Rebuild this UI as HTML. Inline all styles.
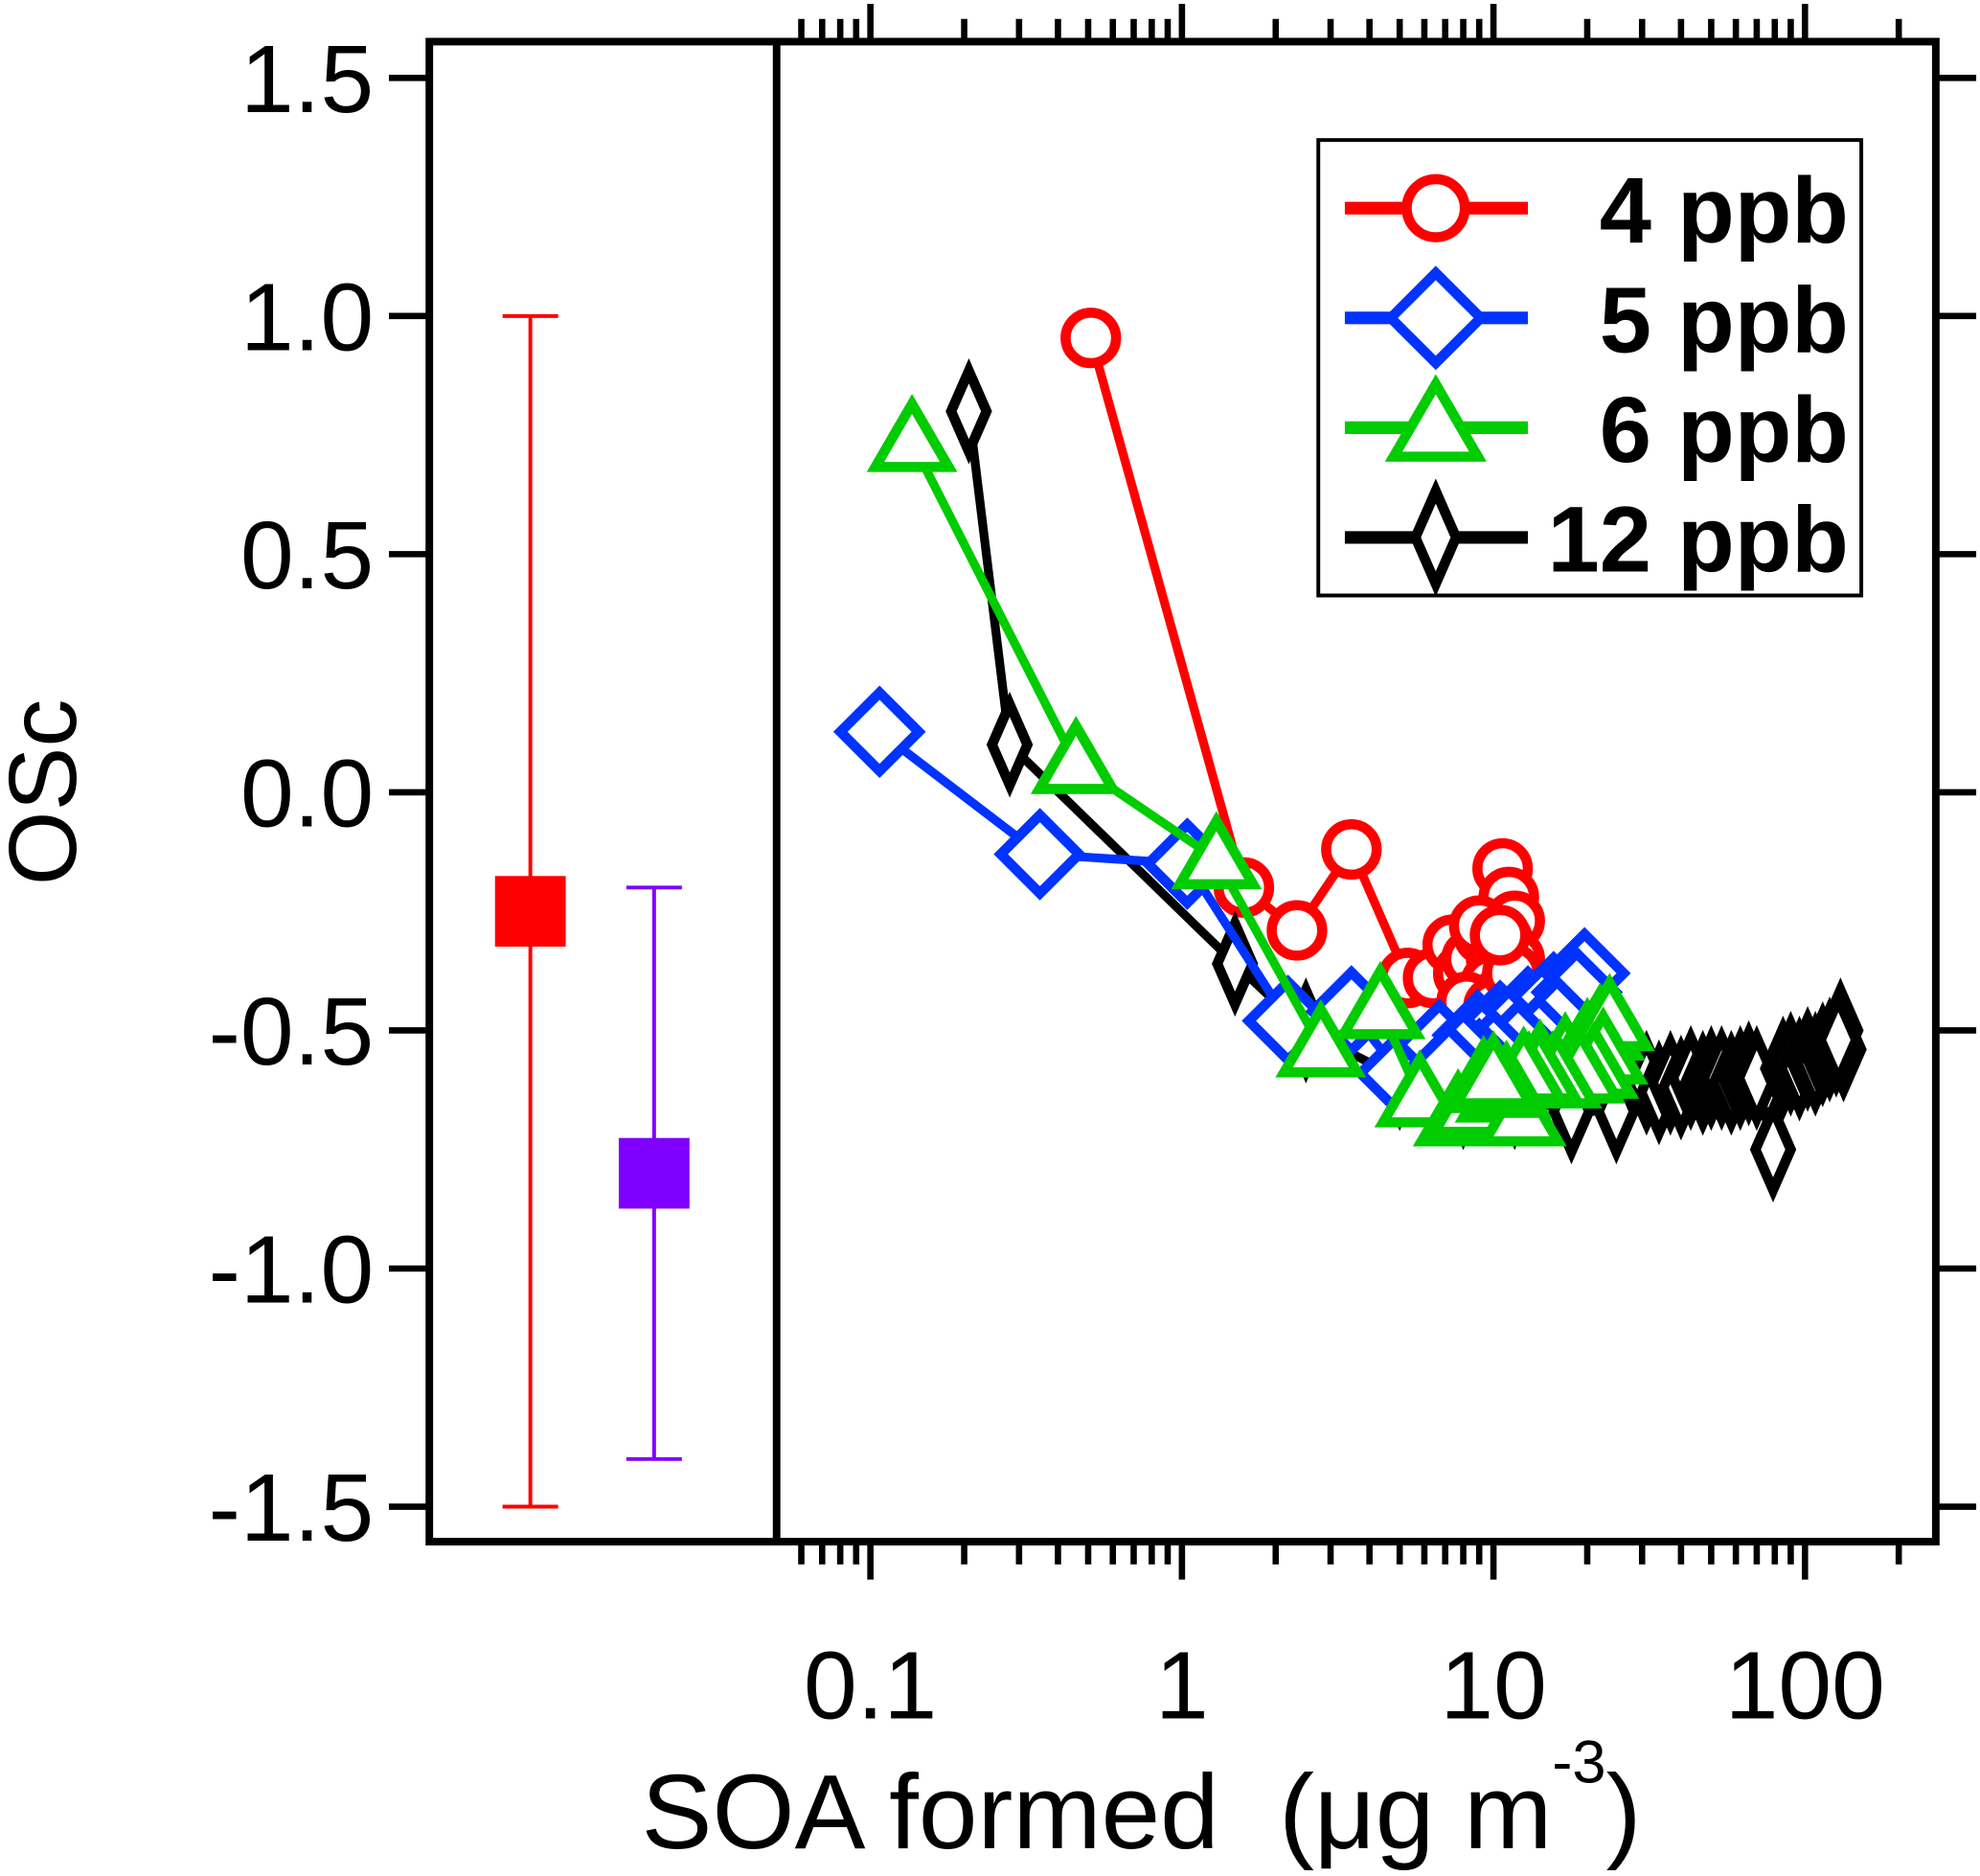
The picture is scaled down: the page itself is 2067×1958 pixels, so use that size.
<!DOCTYPE html>
<html><head><meta charset="utf-8"><style>
html,body{margin:0;padding:0;background:#fff;}
svg{display:block;}
text{font-family:"Liberation Sans",sans-serif;}
</style></head><body>
<svg id="chart" width="2067" height="1958" viewBox="0 0 1568 1487" preserveAspectRatio="none" xmlns="http://www.w3.org/2000/svg">
<g id="g"></g>
</svg>
<script>
// ---- data ----
const redX=[0.51,1.58,2.34,3.5,5.3,6.4,7.4,8.0,8.5,9.3,9.8,10.7,11.2,11.7,10.7,10.2,11.7,9.8,10.9,9.0,8.2,10.0,11.5,10.5];
const redY=[0.954,-0.20,-0.29,-0.12,-0.39,-0.39,-0.32,-0.38,-0.35,-0.30,-0.42,-0.16,-0.22,-0.27,-0.31,-0.35,-0.35,-0.40,-0.42,-0.28,-0.44,-0.45,-0.38,-0.30];
const blueX=[0.107,0.35,1.04,2.19,3.5,5.0,6.7,7.5,8.9,9.5,10.5,11.5,12.9,14,15.6,17,19.6,18.5,16,14,12,10,9,8,7.2];
const blueY=[0.127,-0.13,-0.15,-0.48,-0.46,-0.59,-0.53,-0.57,-0.51,-0.55,-0.49,-0.52,-0.46,-0.50,-0.43,-0.47,-0.38,-0.42,-0.48,-0.52,-0.53,-0.55,-0.57,-0.55,-0.58];
const greenX=[0.136,0.457,1.29,2.79,4.33,5.8,7.7,8.5,9.3,10.5,12.3,13,14.1,15.5,17,18.5,20,22,23.6,22.5,21,19,16,14,12.5,11,10];
const greenY=[0.736,0.06,-0.14,-0.535,-0.455,-0.64,-0.68,-0.66,-0.61,-0.63,-0.68,-0.60,-0.575,-0.60,-0.56,-0.58,-0.53,-0.50,-0.48,-0.55,-0.58,-0.59,-0.60,-0.59,-0.59,-0.62,-0.60];
const blackX=[0.207,0.28,1.48,2.5,5,8,11.7,17.8,24.8,31,34,37,40,43,47,50,54,58,62,66,70,79,85,90,96,102,108,114,120,126,133,130,128];
const blackY=[0.80,0.10,-0.36,-0.50,-0.60,-0.64,-0.64,-0.67,-0.67,-0.61,-0.63,-0.61,-0.62,-0.60,-0.61,-0.60,-0.60,-0.61,-0.60,-0.59,-0.60,-0.75,-0.58,-0.57,-0.58,-0.56,-0.57,-0.55,-0.54,-0.53,-0.54,-0.50,-0.52];
const errCenters=[-0.25,-0.8];
const errHigh=[1.0,-0.2];
const errLow=[-1.5,-1.4];
const yTicks=[1.5,1.0,0.5,0.0,-0.5,-1.0,-1.5];
const yTickLabels=["1.5","1.0","0.5","0.0","-0.5","-1.0","-1.5"];
const xMajor=[0.1,1,10,100];
const xMajorLabels=["0.1","1","10","100"];
const legendLabels=["4 ppb","5 ppb","6 ppb","12 ppb"];

// ---- axes ----
const Y=v=>628-v*377.5;
const X=v=>936+Math.log10(v)*246.7;
const NS="http://www.w3.org/2000/svg";
const g=document.getElementById('g');
function mk(tag,attrs,parent){const e=document.createElementNS(NS,tag);for(const k in attrs)e.setAttribute(k,attrs[k]);(parent||g).appendChild(e);return e;}

let e=mk('rect',{x:340,y:33,width:1193,height:1189,fill:'none',stroke:'#000','stroke-width':6});


e=mk('line',{x1:615,y1:33,x2:615,y2:1222,stroke:'#000','stroke-width':6});



yTicks.forEach((v,i)=>{
  mk('line',{x1:308,y1:Y(v),x2:340,y2:Y(v),stroke:'#000','stroke-width':5});
  mk('line',{x1:1533,y1:Y(v),x2:1565,y2:Y(v),stroke:'#000','stroke-width':5});
  const t=mk('text',{x:296,y:Y(v)+27,'font-size':76,'text-anchor':'end'});
  t.textContent=yTickLabels[i];
  
  
});
for(let d=-2;d<=2;d++){for(let m=1;m<=9;m++){const v=m*Math.pow(10,d);const x=X(v);if(x<618||x>1530)continue;
  const L=m===1?30:18;
  mk('line',{x1:x,y1:33,x2:x,y2:33-L,stroke:'#000','stroke-width':5});
  mk('line',{x1:x,y1:1222,x2:x,y2:1222+L,stroke:'#000','stroke-width':5});}}
xMajor.forEach((v,i)=>{const t=mk('text',{x:X(v),y:1362,'font-size':76,'text-anchor':'middle'});t.textContent=xMajorLabels[i];
  
  });

e=mk('text',{x:0,y:0,'font-size':76,'text-anchor':'middle',transform:'translate(60,628) rotate(-90)'});e.textContent='OSc';


e=mk('text',{x:508,y:1465,'font-size':84});
e.innerHTML='SOA formed <tspan dx="24">(μg m</tspan><tspan dy="-52" font-size="48">-3</tspan><tspan dy="52">)</tspan>';



const errColors=['#ff0000','#7f00ff'];const errXs=[420,518];
errCenters.forEach((c,i)=>{const x=errXs[i],col=errColors[i];
  const gg=mk('g',{});
  
  
  mk('line',{x1:x,y1:Y(errHigh[i]),x2:x,y2:Y(errLow[i]),stroke:col,'stroke-width':3},gg);
  mk('line',{x1:x-22,y1:Y(errHigh[i]),x2:x+22,y2:Y(errHigh[i]),stroke:col,'stroke-width':3},gg);
  mk('line',{x1:x-22,y1:Y(errLow[i]),x2:x+22,y2:Y(errLow[i]),stroke:col,'stroke-width':3},gg);
  mk('rect',{x:x-28,y:Y(c)-28,width:56,height:56,fill:col},gg);
});

function marker(type,cx,cy,col,parent,big){const s=big?1.15:1;
  if(type==='circle')return mk('circle',{cx,cy,r:20*s,fill:'#fff',stroke:col,'stroke-width':8},parent);
  if(type==='diamond')return mk('polygon',{points:`${cx},${cy-31*s} ${cx+31*s},${cy} ${cx},${cy+31*s} ${cx-31*s},${cy}`,fill:'#fff',stroke:col,'stroke-width':8},parent);
  if(type==='triangle')return mk('polygon',{points:`${cx},${cy-30*s} ${cx+29*s},${cy+20*s} ${cx-29*s},${cy+20*s}`,fill:'#fff',stroke:col,'stroke-width':8},parent);
  if(type==='thin')return mk('polygon',{points:`${cx},${cy-32*s} ${cx+14*s},${cy} ${cx},${cy+32*s} ${cx-14*s},${cy}`,fill:'#fff',stroke:col,'stroke-width':8},parent);
}
const series=[
 {n:'4ppb',xs:redX,ys:redY,c:'#ff0000',m:'circle'},
 {n:'12ppb',xs:blackX,ys:blackY,c:'#000000',m:'thin'},
 {n:'5ppb',xs:blueX,ys:blueY,c:'#0033ff',m:'diamond'},
 {n:'6ppb',xs:greenX,ys:greenY,c:'#00cc00',m:'triangle'}];
series.forEach(s=>{
  const gg=mk('g',{});
  
  
  mk('polyline',{points:s.xs.map((x,i)=>X(x)+','+Y(s.ys[i])).join(' '),fill:'none',stroke:s.c,'stroke-width':7,'stroke-linejoin':'round'},gg);
  s.xs.forEach((x,i)=>{const p=marker(s.m,X(x),Y(s.ys[i]),s.c,gg);
    
    });
});

const lg=mk('g',{});


mk('rect',{x:1044,y:111,width:430,height:361,fill:'#fff',stroke:'#000','stroke-width':3},lg);
const lc=['#ff0000','#0033ff','#00cc00','#000000'],lm=['circle','diamond','triangle','thin'];
legendLabels.forEach((l,i)=>{const y=165+i*87;
  const eg=mk('g',{},lg);
  
  
  mk('line',{x1:1065,y1:y,x2:1210,y2:y,stroke:lc[i],'stroke-width':10},eg);
  marker(lm[i],1137,y,lc[i],eg,true);
  const t=mk('text',{x:1464,y:y+27,'font-size':74,'font-weight':'bold','text-anchor':'end'},eg);t.textContent=l;
});
</script>
</body></html>
